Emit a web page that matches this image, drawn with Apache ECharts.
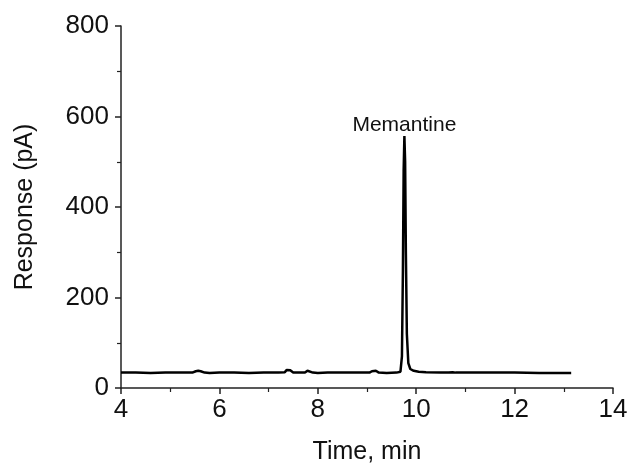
<!DOCTYPE html>
<html>
<head>
<meta charset="utf-8">
<script src="https://cdn.jsdelivr.net/npm/echarts@6/dist/echarts.min.js"></script>
<style>html,body{margin:0;padding:0;background:#fff}#c{width:632px;height:470px}</style>
</head>
<body>
<div id="c"></div>
<script>
const timeMin = [4.0, 4.3, 4.6, 4.9, 5.2, 5.45, 5.52, 5.57, 5.62, 5.7, 5.8, 6.0, 6.3, 6.6, 6.9, 7.2, 7.33, 7.37, 7.4, 7.44, 7.5, 7.62, 7.74, 7.79, 7.83, 7.9, 8.0, 8.2, 8.5, 8.8, 9.05, 9.1, 9.14, 9.18, 9.24, 9.4, 9.6, 9.68, 9.71, 9.73, 9.745, 9.76, 9.775, 9.79, 9.81, 9.84, 9.88, 9.95, 10.05, 10.2, 10.5, 10.66, 10.7, 10.74, 10.8, 11.0, 11.5, 12.0, 12.5, 13.0, 13.15];
const responsePA = [34, 34, 33, 34, 34, 34, 37, 38, 37, 34, 33, 34, 34, 33, 34, 34, 35, 40, 42, 39, 34, 34, 34, 38, 37, 34, 33, 34, 34, 34, 34, 37, 40, 38, 34, 33, 34, 36, 70, 260, 480, 557, 500, 300, 120, 55, 42, 38, 36, 35, 34, 34, 36, 35, 34, 34, 34, 34, 33, 33, 33];
const xTicks = {min: 4, max: 14, step: 2};
const yTicks = {min: 0, max: 800, step: 200};
const peakName = 'Memantine';
const peakTime = 9.76;
const peakResponse = 557;

const data = timeMin.map((t, i) => [t, responsePA[i]]);

const chart = echarts.init(document.getElementById('c'), null, {renderer: 'canvas'});
const axisCommon = {
  axisLine: {show: true, lineStyle: {color: '#222', width: 1.5}},
  axisTick: {show: true, inside: false, length: 6, lineStyle: {color: '#222', width: 1.5}},
  minorTick: {show: true, splitNumber: 2, length: 4, lineStyle: {color: '#222', width: 1.2}},
  splitLine: {show: false},
  axisLabel: {color: '#111', fontFamily: 'Liberation Sans', fontSize: 26},
  nameTextStyle: {color: '#111', fontFamily: 'Liberation Sans', fontSize: 25}
};
chart.setOption({
  animation: false,
  grid: {left: 121, right: 19, top: 26, bottom: 76},
  xAxis: Object.assign({}, axisCommon, {
    type: 'value', min: xTicks.min, max: xTicks.max, interval: xTicks.step,
    name: 'Time, min', nameLocation: 'middle', nameGap: 52,
    axisLabel: Object.assign({}, axisCommon.axisLabel, {margin: 9})
  }),
  yAxis: Object.assign({}, axisCommon, {
    type: 'value', min: yTicks.min, max: yTicks.max, interval: yTicks.step,
    name: 'Response (pA)', nameLocation: 'middle', nameGap: 83,
    axisLabel: Object.assign({}, axisCommon.axisLabel, {margin: 12})
  }),
  series: [{
    type: 'line', data: data, showSymbol: false, symbol: 'none',
    lineStyle: {color: '#000', width: 2.5}, smooth: false,
    markPoint: {
      symbol: 'circle', symbolSize: 0,
      label: {show: true, formatter: peakName, position: 'top', distance: 0,
        fontFamily: 'Liberation Sans', fontSize: 21, color: '#111'},
      data: [{coord: [peakTime, peakResponse]}]
    }
  }]
});
</script>
</body>
</html>
